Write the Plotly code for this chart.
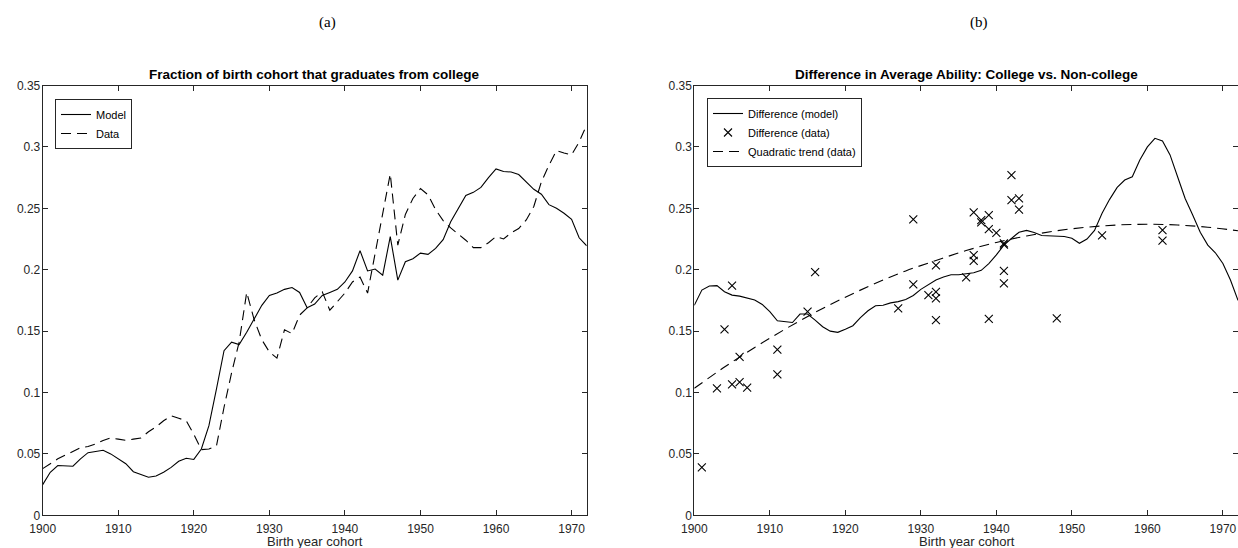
import plotly.graph_objects as go

# ---------------- data ----------------
years = list(range(1900, 1973))

frac_model = [0.025, 0.035, 0.0405, 0.0405, 0.040, 0.046, 0.051, 0.052, 0.053, 0.050,
              0.046, 0.042, 0.0355, 0.033, 0.031, 0.032, 0.035, 0.039, 0.044, 0.0465,
              0.0455, 0.054, 0.073, 0.103, 0.134, 0.141, 0.139, 0.149, 0.160, 0.171,
              0.179, 0.181, 0.184, 0.1855, 0.1815, 0.169, 0.172, 0.179, 0.1815, 0.184,
              0.190, 0.199, 0.2155, 0.199, 0.2005, 0.1955, 0.227, 0.1915, 0.2065, 0.209,
              0.2135, 0.2125, 0.2173, 0.2245, 0.239, 0.250, 0.2605, 0.263, 0.267, 0.275,
              0.282, 0.280, 0.2795, 0.2775, 0.2715, 0.2655, 0.2615, 0.253, 0.250, 0.246,
              0.241, 0.226, 0.2195]

frac_data = [0.038, 0.042, 0.046, 0.049, 0.052, 0.055, 0.056, 0.058, 0.061, 0.063,
             0.062, 0.061, 0.062, 0.063, 0.068, 0.072, 0.077, 0.081, 0.079, 0.077,
             0.066, 0.0535, 0.054, 0.0565, 0.088, 0.116, 0.141, 0.1815, 0.159, 0.143,
             0.133, 0.128, 0.151, 0.148, 0.163, 0.169, 0.177, 0.182, 0.167, 0.174,
             0.181, 0.190, 0.194, 0.181, 0.213, 0.247, 0.278, 0.220, 0.245, 0.258,
             0.266, 0.261, 0.249, 0.240, 0.234, 0.229, 0.224, 0.218, 0.218, 0.222,
             0.227, 0.225, 0.230, 0.2335, 0.2405, 0.2515, 0.2715, 0.285, 0.297, 0.295,
             0.2935, 0.304, 0.318]

diff_model = [0.171, 0.1834, 0.1867, 0.187, 0.182, 0.1793, 0.1785, 0.1766, 0.1753, 0.1717,
              0.1658, 0.1584, 0.1576, 0.157, 0.1639, 0.1639, 0.159, 0.1536, 0.150, 0.149,
              0.1516, 0.1544, 0.161, 0.1666, 0.1707, 0.171, 0.173, 0.174, 0.1758, 0.179,
              0.184, 0.188, 0.1916, 0.194, 0.1959, 0.1959, 0.197, 0.1975, 0.1995, 0.205,
              0.212, 0.220, 0.2254, 0.2305, 0.232, 0.2303, 0.2278, 0.2275, 0.227, 0.227,
              0.2256, 0.2215, 0.225, 0.232, 0.246, 0.2573, 0.267, 0.273, 0.2757, 0.2894,
              0.300, 0.307, 0.3049, 0.2935, 0.2757, 0.258, 0.2445, 0.2305, 0.220, 0.2138,
              0.205, 0.1916, 0.175]

diff_data_years = [1901, 1903, 1904, 1905, 1905, 1906, 1906, 1907, 1911, 1911,
                   1915, 1916, 1927, 1929, 1929, 1931, 1932, 1932, 1932, 1932,
                   1936, 1937, 1937, 1937, 1938, 1938, 1939, 1939, 1939, 1940,
                   1941, 1941, 1941, 1941, 1942, 1942, 1943, 1943, 1948, 1954,
                   1962, 1962]
diff_data_vals = [0.039, 0.1034, 0.1514, 0.187, 0.1066, 0.129, 0.1085, 0.104, 0.135, 0.1148,
                  0.1658, 0.198, 0.1685, 0.241, 0.188, 0.1793, 0.2036, 0.182, 0.1766, 0.159,
                  0.1937, 0.2466, 0.2119, 0.2072, 0.2403, 0.2385, 0.2444, 0.233, 0.160, 0.230,
                  0.2214, 0.2205, 0.199, 0.1888, 0.277, 0.2566, 0.258, 0.249, 0.1603, 0.2279,
                  0.2322, 0.2236]

trend_years = [1900, 1904, 1908, 1912, 1916, 1920, 1924, 1928, 1932, 1936,
               1940, 1944, 1948, 1952, 1956, 1960, 1964, 1968, 1972]
trend_vals = [0.1034, 0.1207, 0.1367, 0.1515, 0.1652, 0.1776, 0.1889, 0.199, 0.2075, 0.2156,
              0.2222, 0.2275, 0.2317, 0.2346, 0.2364, 0.237, 0.2364, 0.2346, 0.2317]

x_ticks = [1900, 1910, 1920, 1930, 1940, 1950, 1960, 1970]
x_tick_text = ["1900", "1910", "1920", "1930", "1940", "1950", "1960", "1970"]
y_ticks = [0, 0.05, 0.1, 0.15, 0.2, 0.25, 0.3, 0.35]
y_tick_text = ["0", "0.05", "0.1", "0.15", "0.2", "0.25", "0.3", "0.35"]

title_a = "Fraction of birth cohort that graduates from college"
title_b = "Difference in Average Ability: College vs. Non-college"
x_label = "Birth year cohort"

# ---------------- figure ----------------
W, H = 1238, 548
INK = "#262626"
DASH = "10px,6px"
FONT = "Liberation Sans, Arial, Helvetica, sans-serif"
SERIF = "Liberation Serif, DejaVu Serif, serif"

fig = go.Figure()

fig.add_trace(go.Scatter(x=years, y=frac_model, mode="lines", name="Model",
                         line=dict(color="black", width=1.1),
                         xaxis="x", yaxis="y", legend="legend"))
fig.add_trace(go.Scatter(x=years, y=frac_data, mode="lines", name="Data",
                         line=dict(color="black", width=1.1, dash=DASH),
                         xaxis="x", yaxis="y", legend="legend"))

fig.add_trace(go.Scatter(x=years, y=diff_model, mode="lines", name="Difference (model)",
                         line=dict(color="black", width=1.1),
                         xaxis="x2", yaxis="y2", legend="legend2"))
fig.add_trace(go.Scatter(x=diff_data_years, y=diff_data_vals, mode="markers",
                         name="Difference (data)",
                         marker=dict(symbol="x-thin", size=8, color="black",
                                     line=dict(color="black", width=1.1)),
                         xaxis="x2", yaxis="y2", legend="legend2"))
fig.add_trace(go.Scatter(x=trend_years, y=trend_vals, mode="lines", name="Quadratic trend (data)",
                         line=dict(color="black", width=1.1, dash=DASH, shape="spline"),
                         xaxis="x2", yaxis="y2", legend="legend2"))


def px_x(p):
    return p / W


def px_y(p):
    return 1 - p / H


axis_common = dict(
    showgrid=False, zeroline=False, showline=True, linecolor=INK, linewidth=1,
    mirror="ticks", ticks="inside", ticklen=5, tickwidth=1, tickcolor=INK,
    tickfont=dict(family=FONT, size=12, color=INK), automargin=False,
)

dom_y = [px_y(515.3), px_y(85.5)]
dom_x1 = [px_x(42.7), px_x(586.7)]
dom_x2 = [px_x(694.3), 1.0]
cx1 = (dom_x1[0] + dom_x1[1]) / 2
cx2 = (dom_x2[0] + px_x(1239)) / 2

fig.update_layout(
    width=W, height=H,
    margin=dict(l=0, r=0, t=0, b=0, autoexpand=False),
    paper_bgcolor="white", plot_bgcolor="white",
    showlegend=True,
    xaxis=dict(domain=dom_x1, range=[1900, 1972], tickvals=x_ticks, ticktext=x_tick_text,
               anchor="y", ticklabelstandoff=2, **axis_common),
    yaxis=dict(domain=dom_y, range=[0, 0.35], tickvals=y_ticks, ticktext=y_tick_text,
               anchor="x", ticklabelstandoff=-1, **axis_common),
    xaxis2=dict(domain=dom_x2, range=[1900, 1972], tickvals=x_ticks, ticktext=x_tick_text,
                anchor="y2", ticklabelstandoff=2, **axis_common),
    yaxis2=dict(domain=dom_y, range=[0, 0.35], tickvals=y_ticks, ticktext=y_tick_text,
                anchor="x2", ticklabelstandoff=-1, **axis_common),
    legend=dict(x=px_x(55), y=px_y(99), xanchor="left", yanchor="top",
                bgcolor="white", bordercolor=INK, borderwidth=1,
                font=dict(family=FONT, size=11, color="black"),
                tracegroupgap=0, itemwidth=30),
    legend2=dict(x=px_x(707), y=px_y(98), xanchor="left", yanchor="top",
                 bgcolor="white", bordercolor=INK, borderwidth=1,
                 font=dict(family=FONT, size=11, color="black"),
                 tracegroupgap=0, itemwidth=30),
)


def ann(text, x, y, size, family=FONT, color="black"):
    return dict(text=text, x=x, y=y, xref="paper", yref="paper", showarrow=False,
                xanchor="center", yanchor="middle",
                font=dict(family=family, size=size, color=color))


annotations = [
    ann("(a)", px_x(327), px_y(23), 15, SERIF),
    ann("(b)", px_x(979), px_y(23), 15, SERIF),
    ann("<b>" + title_a + "</b>", cx1, px_y(74), 13.5),
    ann("<b>" + title_b + "</b>", cx2, px_y(74), 13.5),
    ann(x_label, cx1, px_y(541), 13, FONT, INK),
    ann(x_label, cx2, px_y(541), 13, FONT, INK),
]
fig.update_layout(annotations=annotations)

fig.write_html("out.html", config={"displayModeBar": False},
               post_script="document.body.style.margin='0';document.body.style.overflow='hidden';")
